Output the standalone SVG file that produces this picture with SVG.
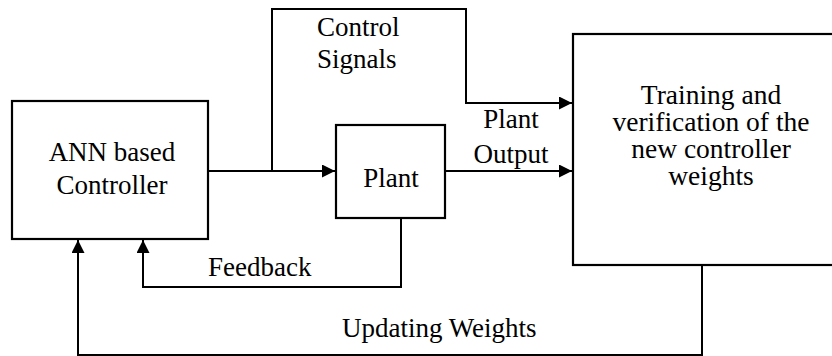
<svg xmlns="http://www.w3.org/2000/svg" width="832" height="356" viewBox="0 0 832 356">
<style>
.box{fill:#fff;stroke:#000;stroke-width:2.2}
.ln{fill:none;stroke:#000;stroke-width:2}
text{font-family:"Liberation Serif","Times New Roman",serif;font-size:27px;fill:#000}
.c{text-anchor:middle}
.r{font-size:27.5px}
</style>
<defs>
<marker id="ah" markerWidth="13" markerHeight="13" refX="13" refY="6.5" orient="auto" markerUnits="userSpaceOnUse">
<path d="M0,0 L13,6.5 L0,13 Z" fill="#000"/>
</marker>
</defs>
<rect width="832" height="356" fill="#fff"/>
<g id="ann">
<rect class="box" x="12" y="101" width="196" height="138"/>
<text class="c" x="112" y="161">ANN based</text>
<text class="c" x="112" y="194">Controller</text>
</g>
<g id="plant">
<rect class="box" x="336" y="125" width="109" height="93"/>
<text class="c" x="391" y="187">Plant</text>
</g>
<g id="training">
<rect class="box" x="573" y="34" width="270" height="231"/>
<text class="c r" x="711" y="104">Training and</text>
<text class="c r" x="711" y="131">verification of the</text>
<text class="c r" x="711" y="158">new controller</text>
<text class="c r" x="711" y="185">weights</text>
</g>
<g id="connectors">
<path class="ln" d="M208,171 H335" marker-end="url(#ah)"/>
<path class="ln" d="M272,171 V9 H466 V103 H572" marker-end="url(#ah)"/>
<path class="ln" d="M445,171 H572" marker-end="url(#ah)"/>
<path class="ln" d="M401,218 V287 H143 V240" marker-end="url(#ah)"/>
<path class="ln" d="M702,265 V355 H78 V240" marker-end="url(#ah)"/>
<text x="317" y="36">Control</text>
<text x="317" y="68">Signals</text>
<text class="c" x="511" y="128">Plant</text>
<text class="c" x="511" y="163">Output</text>
<text x="208" y="276">Feedback</text>
<text x="342" y="337">Updating Weights</text>
</g>
</svg>
